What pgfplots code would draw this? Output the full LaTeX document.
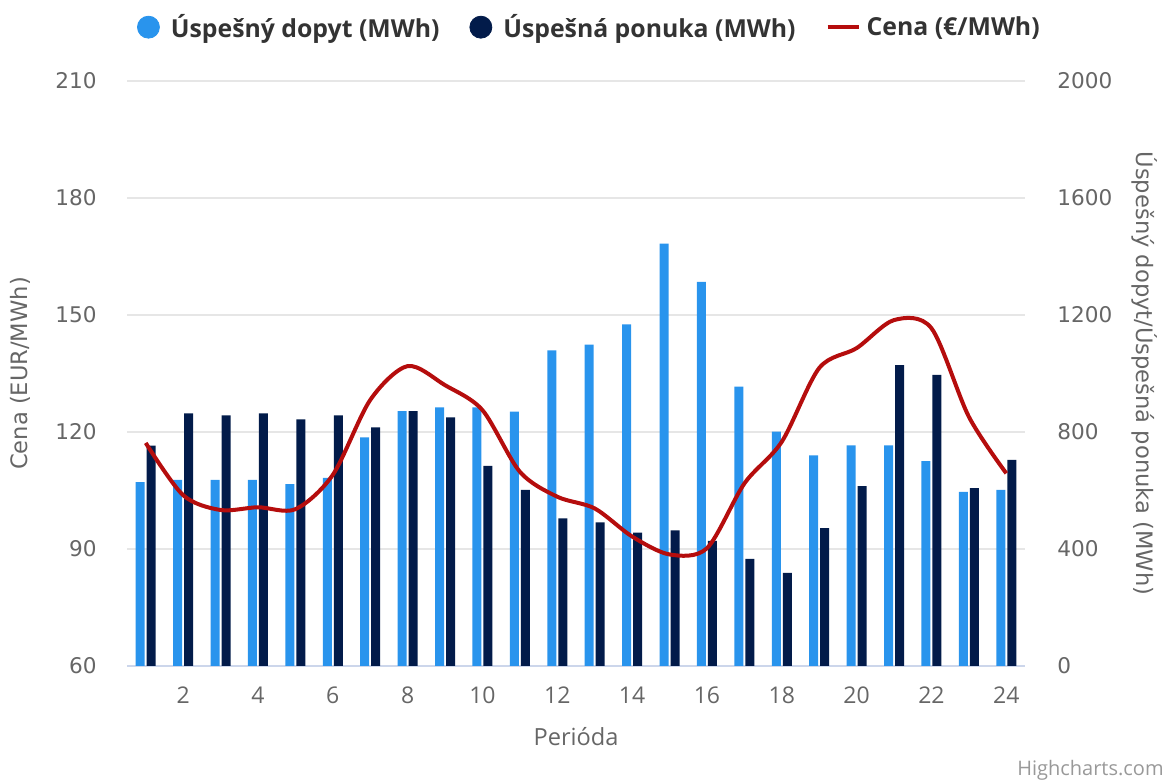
\documentclass[border=0pt]{standalone}
\usepackage{pgfplots}
\pgfplotsset{compat=1.18}
\usepackage{fontspec}
\setmainfont{Open Sans}
\newfontfamily\dejavu{DejaVu Sans}
\definecolor{dopyt}{HTML}{2994ED}
\definecolor{ponuka}{HTML}{021B4A}
\definecolor{cena}{HTML}{B50D0D}
\definecolor{gridc}{HTML}{E6E6E6}
\definecolor{ticklab}{HTML}{666666}
\definecolor{legtext}{HTML}{333333}
\definecolor{xline}{HTML}{CCD6EB}
\begin{document}
\begin{tikzpicture}
\path[use as bounding box] (-63.5pt,-57pt) rectangle (519.5pt,333pt);
% bars (right axis)
\begin{axis}[
  at={(0,0)}, anchor=south west,
  width=449pt, height=292.5pt, scale only axis,
  xmin=0.5, xmax=24.5, ymin=0, ymax=2000,
  axis y line*=right, axis x line*=bottom,
  x axis line style={-, draw=xline, line width=0.6pt},
  y axis line style={draw=none},
  ytick={0,400,...,2000}, xtick={2,4,...,24},
  major tick length=0pt,
  ymajorgrids, grid style={gridc, line width=0.6pt},
  ybar, bar width=4.5pt,
  yticklabel style={font=\dejavu\fontsize{10.8}{12}\selectfont, text=ticklab, anchor=west, inner sep=0pt, xshift=16pt},
  xticklabel style={font=\fontsize{11.5}{13}\selectfont, text=ticklab, anchor=center, inner sep=0pt, yshift=-14.5pt},
  every axis y label/.style={at={(axis description cs:1.1336,0.5)}, rotate=-90, anchor=center},
  ylabel={Úspešný dopyt/Úspešná ponuka (MWh)},
  ylabel style={font=\dejavu\fontsize{11.3}{13}\selectfont, text=ticklab},
  every axis x label/.style={at={(axis description cs:0.5,-0.1214)}, anchor=center},
  xlabel={Perióda},
  xlabel style={font=\fontsize{11.8}{14}\selectfont, text=ticklab},
  /pgf/number format/assume math mode=true,
  scaled y ticks=false,
  yticklabel={\pgfmathprintnumber[precision=0,1000 sep={}]{\tick}},
]
\addplot[fill=dopyt, draw=none, bar shift=-2.75pt] coordinates {
(1,629) (2,636) (3,636) (4,636) (5,622) (6,643) (7,782) (8,871) (9,884) (10,884) (11,870) (12,1079)
(13,1099) (14,1168) (15,1444) (16,1313) (17,955) (18,801) (19,720) (20,754) (21,754) (22,700) (23,595) (24,602)};
\addplot[fill=ponuka, draw=none, bar shift=2.75pt] coordinates {
(1,753) (2,864) (3,857) (4,864) (5,843) (6,857) (7,816) (8,871) (9,850) (10,684) (11,602) (12,505)
(13,491) (14,456) (15,464) (16,428) (17,366) (18,318) (19,471) (20,615) (21,1029) (22,995) (23,608) (24,705)};
\end{axis}
% price (left axis)
\begin{axis}[
  at={(0,0)}, anchor=south west,
  width=449pt, height=292.5pt, scale only axis,
  xmin=0.5, xmax=24.5, ymin=60, ymax=210,
  axis y line*=left, hide x axis,
  y axis line style={draw=none},
  ytick={60,90,...,210},
  major tick length=0pt,
  yticklabel style={font=\dejavu\fontsize{10.8}{12}\selectfont, text=ticklab, anchor=east, inner sep=0pt, xshift=-15pt},
  /pgf/number format/assume math mode=true,
  every axis y label/.style={at={(axis description cs:-0.1192,0.5)}, rotate=90, anchor=center},
  ylabel={Cena (EUR/MWh)},
  ylabel style={font=\dejavu\fontsize{11.3}{13}\selectfont, text=ticklab},
  legend columns=3,
  legend style={at={(axis description cs:0.516,1.092)}, anchor=center, draw=none, fill=none,
    font=\bfseries\fontsize{12.4}{14}\selectfont, text=legtext,
    /tikz/every odd column/.append style={column sep=1pt},
    /tikz/every even column/.append style={column sep=13pt}},
  legend cell align=left,
]
\addlegendimage{legend image code/.code={\fill[dopyt] (5.5pt,0pt) circle (5.5pt); \path (13.5pt,0pt);}}
\addlegendentry{Úspešný dopyt (MWh)}
\addlegendimage{legend image code/.code={\fill[ponuka] (5.5pt,0pt) circle (5.5pt); \path (13.5pt,0pt);}}
\addlegendentry{Úspešná ponuka (MWh)}
\addplot[cena, line width=2pt, smooth, tension=0.5,
  legend image code/.code={\draw[cena, line width=2pt] (0pt,0pt) -- (15.5pt,0pt);}] coordinates {
(1,117.2) (2,103.8) (3,100) (4,100.7) (5,100.2) (6,109) (7,128.2) (8,136.9) (9,132) (10,125.6) (11,109.8) (12,103.4)
(13,100.4) (14,93.2) (15,88.6) (16,90.2) (17,106.8) (18,117.5) (19,136.4) (20,141.5) (21,148.7) (22,146.6) (23,123.9) (24,109.4)};
\addlegendentry{Cena (€/MWh)}
\end{axis}
\node[anchor=east, inner sep=0pt, text=gray!80, font=\fontsize{10}{12}\selectfont] at (518.5pt,-52pt) {Highcharts.com};
\end{tikzpicture}
\end{document}
